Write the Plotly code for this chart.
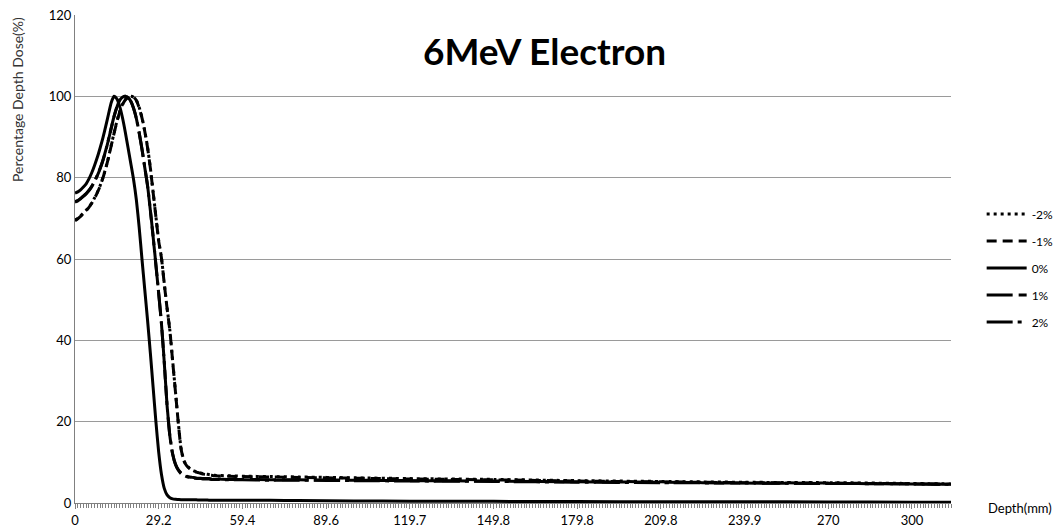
import plotly.graph_objects as go

# Depth axis (mm): 1 mm steps through build-up and fall-off, sparser along the tail
depth = list(range(0, 51)) + [55, 60, 70, 80, 100, 120, 150, 180, 210, 240, 270, 300, 314]

# Percentage depth dose (%) for each density variation
pdd_m2 = [69.6, 70.0, 70.6, 71.3, 72.0, 72.8, 73.8, 75.0, 76.4, 78.0,
          80.0, 82.3, 85.0, 88.0, 91.0, 93.8, 96.2, 98.0, 99.2, 99.8,
          100.0, 99.8, 99.0, 97.3, 94.8, 91.5, 87.5, 82.5, 76.5, 70.5,
          64.5, 60.3, 54.0, 48.0, 42.5, 35.0, 27.5, 20.0, 13.5, 10.5,
          9.3, 8.6, 8.1, 7.8, 7.6, 7.4, 7.2, 7.1, 7.0, 6.9,
          6.8, 6.7, 6.6, 6.5, 6.4, 6.2, 6.0, 5.8, 5.5, 5.3, 5.1, 5.0, 4.8, 4.7]
pdd_m1 = [69.4, 69.9, 70.5, 71.2, 71.9, 72.7, 73.7, 74.9, 76.3, 77.9,
          79.9, 82.2, 84.9, 87.9, 90.9, 93.7, 96.1, 97.9, 99.1, 99.8,
          100.0, 99.8, 99.0, 97.2, 94.7, 91.4, 87.4, 82.4, 76.4, 70.4,
          64.4, 60.2, 53.9, 47.9, 42.4, 34.9, 27.4, 19.9, 13.4, 10.4,
          9.2, 8.5, 8.0, 7.7, 7.5, 7.3, 7.1, 7.0, 6.9, 6.8,
          6.7, 6.6, 6.5, 6.4, 6.3, 6.1, 5.9, 5.7, 5.4, 5.2, 5.0, 4.9, 4.7, 4.6]
pdd_0 = [76.2, 76.5, 77.0, 77.7, 78.5, 79.7, 81.2, 83.0, 85.0, 87.3,
         89.8, 92.6, 95.6, 98.5, 100.0, 99.4, 97.6, 94.8, 91.3, 87.4,
         83.5, 79.5, 74.5, 67.8, 60.0, 52.5, 45.0, 37.0, 28.5, 20.0,
         12.5, 7.0, 3.6, 2.0, 1.3, 1.0, 0.9, 0.85, 0.8, 0.8,
         0.8, 0.8, 0.8, 0.8, 0.75, 0.75, 0.75, 0.75, 0.7, 0.7,
         0.7, 0.7, 0.7, 0.65, 0.6, 0.5, 0.45, 0.4, 0.35, 0.3, 0.3, 0.25, 0.2, 0.2]
pdd_p1 = [74.0, 74.3, 74.8, 75.4, 76.0, 76.8, 77.8, 79.0, 80.5, 82.2,
          84.2, 86.6, 89.3, 92.2, 95.0, 97.3, 99.0, 99.8, 100.0, 99.7,
          98.8, 97.0, 94.5, 91.0, 87.0, 82.5, 78.0, 72.0, 65.5, 58.5,
          51.5, 44.0, 34.5, 24.0, 16.5, 12.0, 9.5, 8.2, 7.4, 6.9,
          6.6, 6.4, 6.3, 6.2, 6.1, 6.1, 6.0, 6.0, 6.0, 5.9,
          5.9, 5.8, 5.8, 5.7, 5.7, 5.6, 5.5, 5.4, 5.2, 5.1, 4.9, 4.8, 4.7, 4.6]
pdd_p2 = [74.1, 74.4, 74.9, 75.5, 76.1, 76.9, 77.9, 79.1, 80.6, 82.3,
          84.3, 86.7, 89.4, 92.3, 95.1, 97.4, 99.1, 99.8, 100.0, 99.7,
          98.8, 97.1, 94.6, 91.1, 87.1, 82.6, 78.1, 72.1, 65.6, 58.6,
          51.6, 44.1, 34.6, 24.1, 16.6, 12.1, 9.6, 8.1, 7.2, 6.8,
          6.5, 6.3, 6.2, 6.1, 6.0, 6.0, 5.9, 5.9, 5.9, 5.8,
          5.8, 5.7, 5.7, 5.6, 5.6, 5.5, 5.4, 5.3, 5.1, 5.0, 4.9, 4.8, 4.7, 4.6]

series_names = ["-2%", "-1%", "0%", "1%", "2%"]
series_values = [pdd_m2, pdd_m1, pdd_0, pdd_p1, pdd_p2]
series_dash = ["3px,4px", "10px,6px", "solid", "26px,6px", "26px,5px,4px,5px"]

x_tick_pos = [0, 30, 60, 90, 120, 150, 180, 210, 240, 270, 300]
x_tick_labels = ["0", "29.2", "59.4", "89.6", "119.7", "149.8", "179.8",
                 "209.8", "239.9", "270", "300"]

FONT = "Lato"

fig = go.Figure()
for name, vals, dash in zip(series_names, series_values, series_dash):
    fig.add_trace(go.Scatter(
        x=depth, y=vals, name=name, mode="lines",
        line=dict(color="black", width=3, dash=dash, shape="spline", smoothing=0.6),
        legendgroup=name,
    ))

fig.update_layout(
    width=1055, height=531,
    margin=dict(l=75, r=104, t=15, b=28, autoexpand=False),
    paper_bgcolor="white", plot_bgcolor="white",
    font=dict(family=FONT, color="black", size=12),
    showlegend=True,
    legend=dict(
        x=1.035, y=0.622, xanchor="left", yanchor="top",
        font=dict(size=12, family=FONT, color="black"),
        tracegroupgap=8, itemwidth=40,
        bgcolor="rgba(0,0,0,0)",
    ),
    xaxis=dict(
        range=[0, 314], tickmode="array", tickvals=x_tick_pos, ticktext=x_tick_labels,
        showgrid=False, zeroline=False,
        showline=True, linecolor="#808080", linewidth=1,
        ticks="outside", ticklen=5, tickcolor="#808080",
        minor=dict(dtick=1, tick0=0, ticks="outside", ticklen=4, tickcolor="#808080", showgrid=False),
        tickfont=dict(size=13, family=FONT, color="black"),
    ),
    yaxis=dict(
        range=[0, 120], dtick=20, tick0=0,
        showgrid=True, gridcolor="#9a9a9a", gridwidth=1,
        zeroline=False, showline=True, linecolor="#808080", linewidth=1,
        ticks="", tickfont=dict(size=13, family=FONT, color="black"),
    ),
    annotations=[
        dict(text="<b>6MeV Electron</b>", x=0.5365, y=0.928, xref="paper", yref="paper",
             showarrow=False, font=dict(size=37, family=FONT, color="black"),
             xanchor="center", yanchor="middle"),
        dict(text="Percentage Depth Dose(%)", x=-0.065, y=0.826, xref="paper", yref="paper",
             showarrow=False, textangle=-90, font=dict(size=14, family=FONT, color="#333333"),
             xanchor="center", yanchor="middle"),
        dict(text="Depth(mm)", x=1.0785, y=-0.0102, xref="paper", yref="paper",
             showarrow=False, font=dict(size=13, family=FONT, color="black"),
             xanchor="center", yanchor="middle"),
    ],
)

fig.write_html("out.html")
